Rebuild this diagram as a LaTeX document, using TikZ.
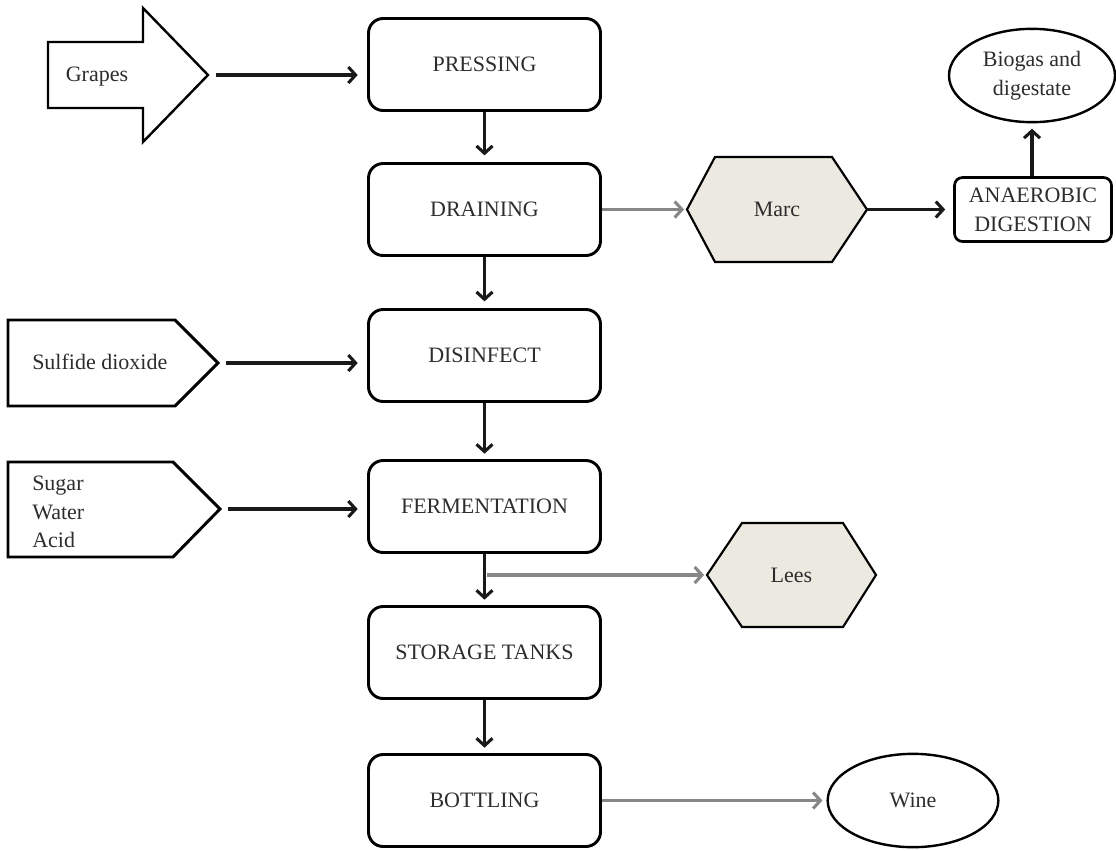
\documentclass[tikz,border=0pt]{standalone}
\usepackage{fontspec}
\setmainfont{Liberation Serif}
\usetikzlibrary{arrows.meta,shapes.geometric}
\definecolor{hexfill}{RGB}{236,233,224}
\definecolor{txt}{RGB}{45,45,45}
\definecolor{graylink}{RGB}{135,135,135}
\begin{document}
\begin{tikzpicture}[x=0.75pt,y=-0.75pt,
  every node/.style={font=\fontsize{16.5}{21.5}\selectfont, text=txt},
  procbox/.style={draw, line width=2.2pt, rounded corners=11pt, minimum width=174pt, minimum height=69pt, inner sep=0pt},
  inshape/.style={draw, line width=1.8pt, line join=miter},
  inshapebold/.style={draw, line width=2.2pt, line join=miter},
  hexshape/.style={draw, fill=hexfill, line width=1.6pt},
  blackarrow/.style={draw=black!90, line width=2.3pt, -{Straight Barb[length=5.5pt,width=12pt]}},
  grayarrow/.style={draw=graylink, line width=2.3pt, -{Straight Barb[length=5.5pt,width=12pt]}},
  ovalnode/.style={ellipse, draw, line width=1.8pt, inner sep=0pt, align=center}
]
\useasboundingbox (0,0) rectangle (1116,850);

% main process column
\node[procbox] (press)  at (484.5,64.5)  {PRESSING};
\node[procbox] (drain)  at (484.5,209.5) {DRAINING};
\node[procbox] (disinf) at (484.5,355.5) {DISINFECT};
\node[procbox] (ferm)   at (484.5,506.5) {FERMENTATION};
\node[procbox] (store)  at (484.5,652.5) {STORAGE TANKS};
\node[procbox] (bottle) at (484.5,800.5) {BOTTLING};

\draw[blackarrow, shorten >=5pt] (press) -- (drain);
\draw[blackarrow, shorten >=5pt] (drain) -- (disinf);
\draw[blackarrow, shorten >=4pt] (disinf) -- (ferm);
\draw[blackarrow, shorten >=4pt] (ferm) -- (store);
\draw[blackarrow, shorten >=4pt] (store) -- (bottle);

% Grapes input arrow
\draw[inshape] (48,42) -- (143,42) -- (143,8) -- (208,75) -- (143,142) -- (143,108) -- (48,108) -- cycle;
\node[inner sep=0pt] (grapes) at (97,77) {Grapes};
\coordinate (grapestip) at (208,75);
\draw[blackarrow, shorten <=6pt, shorten >=7pt] (grapestip) -- (grapestip -| press.west);

% Sulfide dioxide input
\draw[inshapebold] (8,320) -- (175,320) -- (218,363) -- (175,406) -- (8,406) -- cycle;
\node[anchor=west, inner sep=0pt] (sulf) at (32,362) {Sulfide dioxide};
\coordinate (sulftip) at (218,363);
\draw[blackarrow, shorten <=6pt, shorten >=7pt] (sulftip) -- (sulftip -| disinf.west);

% Sugar / Water / Acid input
\draw[inshapebold] (8,462) -- (173,462) -- (220,509) -- (173,557) -- (8,557) -- cycle;
\node[anchor=west, inner sep=0pt, align=left] (sugar) at (32,512) {Sugar\\Water\\Acid};
\coordinate (sugartip) at (220,509);
\draw[blackarrow, shorten <=6pt, shorten >=7pt] (sugartip) -- (sugartip -| ferm.west);

% Marc hexagon
\draw[hexshape] (687,209.5) -- (715,157) -- (832,157) -- (867,209.5) -- (832,262) -- (715,262) -- cycle;
\node[minimum width=135pt, minimum height=78pt, inner sep=0pt] (marc) at (777,209.5) {Marc};
\draw[grayarrow, shorten >=2pt] (drain.east) -- (marc.west);

% Anaerobic digestion
\node[draw, line width=2pt, rounded corners=6pt, minimum width=117.75pt, minimum height=48pt, inner sep=0pt, align=center] (anaer) at (1033,209.5) {ANAEROBIC\\DIGESTION};
\draw[blackarrow, shorten >=6pt] (marc.east) -- (anaer.west);

% Biogas ellipse
\node[ovalnode, minimum width=124.5pt, minimum height=70pt] (biogas) at (1032,75.5) {Biogas and\\digestate};
\draw[blackarrow, shorten >=4pt] ([xshift=-0.75pt]anaer.north) -- ([xshift=-0.75pt]anaer.north |- biogas.south);

% Lees hexagon
\draw[hexshape] (707,575) -- (742,523) -- (843,523) -- (876,575) -- (843,627) -- (742,627) -- cycle;
\node[minimum width=126.75pt, minimum height=78pt, inner sep=0pt] (lees) at (791.5,575) {Lees};
\coordinate (branch) at ([xshift=1.5pt]ferm.south |- lees.west);
\draw[grayarrow, shorten >=2pt] (branch) -- (lees.west);

% Wine ellipse
\node[ovalnode, minimum width=128pt, minimum height=70pt] (wine) at (913,800.5) {Wine};
\draw[grayarrow, shorten >=3pt] (bottle.east) -- (wine.west);

\end{tikzpicture}
\end{document}
